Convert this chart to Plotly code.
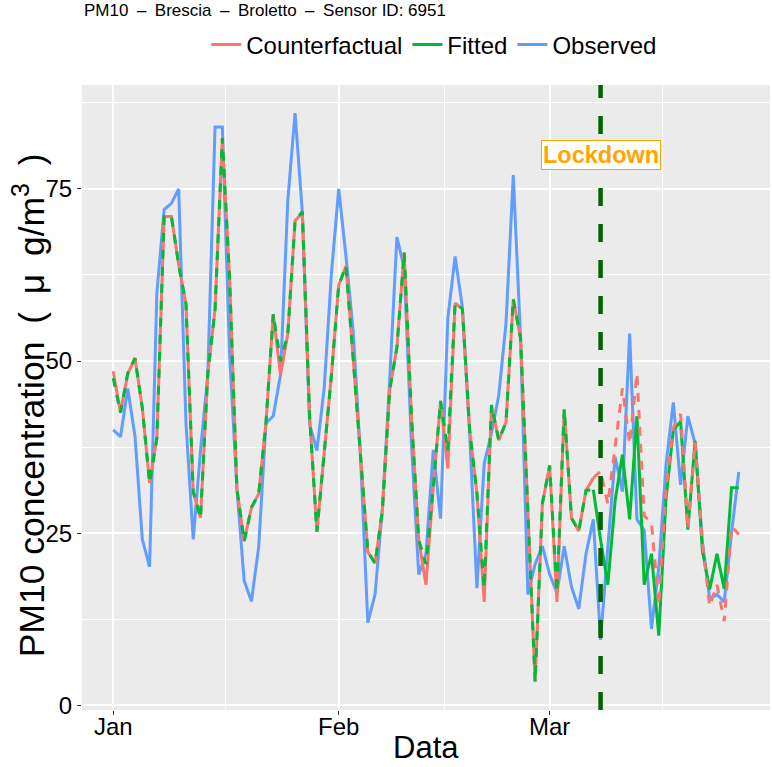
import pandas as pd
import plotly.graph_objects as go

# ---------------- data ----------------
start_date = "2020-01-01"
n_days = 87
lockdown_date = "2020-03-08"

observed = [40.0, 39.0, 46.0, 39.0, 24.1, 20.1, 59.9, 72.0, 72.9, 75.0,
            41.0, 24.1, 37.0, 48.0, 84.0, 84.0, 51.0, 31.5, 18.1, 15.1,
            23.0, 41.0, 42.0, 48.0, 73.3, 86.0, 71.6, 40.8, 37.0, 46.0,
            62.7, 75.0, 65.2, 54.2, 36.0, 12.0, 16.1, 28.5, 47.1, 68.0,
            63.5, 38.0, 19.0, 22.0, 37.1, 27.1, 56.2, 65.2, 57.8, 39.5,
            17.0, 35.1, 39.5, 45.0, 55.5, 77.0, 53.3, 16.1, 20.5, 23.1,
            19.0, 16.3, 23.1, 17.2, 14.0, 22.0, 27.0, 9.5, 23.0, 36.1,
            31.0, 54.0, 27.0, 25.4, 11.1, 20.0, 35.0, 44.0, 32.0, 42.0,
            38.0, 23.8, 15.5, 16.1, 15.0, 25.0, 33.9]

counterfactual = [48.5, 42.5, 48.2, 50.4, 43.2, 32.3, 38.8, 71.0, 71.0, 64.0,
                  58.3, 31.0, 27.2, 48.2, 57.5, 82.4, 62.0, 31.5, 23.8, 28.7,
                  30.7, 41.0, 56.8, 48.0, 53.9, 70.4, 71.5, 42.0, 25.2, 36.5,
                  48.0, 61.0, 63.8, 50.2, 36.8, 22.3, 20.6, 28.3, 45.7, 52.0,
                  65.8, 42.0, 24.0, 17.5, 31.7, 44.2, 34.4, 58.4, 57.6, 40.0,
                  30.8, 15.0, 43.6, 38.5, 41.1, 59.0, 53.3, 27.0, 3.4, 29.3,
                  34.8, 15.0, 43.0, 27.2, 25.3, 31.2, 33.0, 34.0, 29.2, 38.0,
                  46.0, 38.0, 48.2, 27.5, 26.5, 14.5, 31.5, 40.3, 42.3, 25.6,
                  38.2, 23.5, 14.4, 17.5, 12.2, 26.0, 24.8]

fitted = [47.5, 42.5, 48.2, 50.4, 43.2, 32.3, 38.8, 71.0, 71.0, 64.0,
          58.3, 31.0, 27.2, 48.2, 57.5, 82.4, 62.0, 31.5, 23.8, 28.7,
          30.7, 41.0, 56.8, 50.0, 53.9, 70.4, 71.7, 42.0, 25.2, 36.5,
          48.0, 61.0, 63.8, 50.2, 36.8, 22.3, 20.6, 28.3, 45.7, 52.0,
          65.8, 42.0, 24.0, 20.5, 31.7, 44.2, 37.0, 58.4, 57.6, 40.0,
          30.8, 17.0, 43.6, 38.5, 41.1, 59.0, 53.3, 27.0, 3.4, 29.3,
          34.8, 16.4, 43.0, 27.2, 25.3, 31.2, 31.3, 24.0, 17.5, 29.7,
          36.4, 27.0, 42.0, 17.5, 22.0, 10.1, 30.0, 40.0, 41.2, 25.5,
          38.4, 22.4, 16.8, 22.0, 16.9, 31.6, 31.6]

x_tick_vals = ["2020-01-01", "2020-02-01", "2020-03-01"]
x_tick_text = ["Jan", "Feb", "Mar"]
x_minor_vals = ["2020-01-16 12:00", "2020-02-15 12:00", "2020-03-16 12:00"]
y_tick_vals = [0, 25, 50, 75]
y_minor_vals = [12.5, 37.5, 62.5, 87.5]

SP = "\u2002"
title_text = f"PM10{SP}\u2013{SP}Brescia{SP}\u2013{SP}Broletto{SP}\u2013{SP}Sensor ID: 6951"
y_title = f"PM10 concentration{SP}({SP}\u03bc{SP}g/m<sup>3</sup>{SP})"

# ---------------- build ----------------
dates = pd.date_range(start_date, periods=n_days, freq="D")
df = pd.DataFrame({"date": dates, "obs": observed, "cf": counterfactual, "fit": fitted})
split = pd.Timestamp(lockdown_date) - pd.Timedelta(days=1)
pre = df[df["date"] <= split]
post = df[df["date"] >= split]

RED = "#F8766D"
GREEN = "#00BA38"
BLUE = "#619CFF"
FONT = "Liberation Sans, Arial, Helvetica, sans-serif"
LW = 3

fig = go.Figure()
fig.add_trace(go.Scatter(x=df["date"], y=df["obs"], mode="lines", name="Observed",
                         line=dict(color=BLUE, width=LW), legendrank=3))
fig.add_trace(go.Scatter(x=post["date"], y=post["fit"], mode="lines", name="Fitted",
                         line=dict(color=GREEN, width=LW), legendgroup="fit", legendrank=2))
fig.add_trace(go.Scatter(x=post["date"], y=post["cf"], mode="lines", name="Counterfactual",
                         line=dict(color=RED, width=LW, dash="9px,8px"), legendgroup="cf",
                         showlegend=False))
fig.add_trace(go.Scatter(x=pre["date"], y=pre["cf"], mode="lines", name="Counterfactual",
                         line=dict(color=RED, width=LW), legendgroup="cf", legendrank=1))
fig.add_trace(go.Scatter(x=pre["date"], y=pre["fit"], mode="lines", name="Fitted",
                         line=dict(color=GREEN, width=LW, dash="9px,8px"), legendgroup="fit",
                         showlegend=False))

fig.add_shape(type="line", xref="x", yref="paper", x0=lockdown_date, x1=lockdown_date,
              y0=0, y1=1, line=dict(color="#006400", width=4.5, dash="18px,18px"))

fig.add_annotation(x=lockdown_date, y=80, xref="x", yref="y", text="<b>Lockdown</b>",
                   showarrow=False, font=dict(family=FONT, size=23.5, color="#FFA500"),
                   bgcolor="white", bordercolor="#FFA500", borderwidth=1, borderpad=1)

fig.add_annotation(x=0.0, y=1.0, xref="paper", yref="paper", yshift=75, xshift=0,
                   text=title_text, showarrow=False, xanchor="left", yanchor="middle",
                   font=dict(family=FONT, size=17, color="black"))
fig.add_annotation(x=0.5, y=-0.0912, xref="paper", yref="paper", text="Data",
                   showarrow=False, xanchor="center", yanchor="bottom",
                   font=dict(family=FONT, size=31, color="black"))
fig.add_annotation(x=-0.076, y=0.487, xref="paper", yref="paper",
                   text=y_title, textangle=-90,
                   showarrow=False, xanchor="center", yanchor="middle",
                   font=dict(family=FONT, size=35.5, color="black"))

fig.update_layout(
    width=772, height=767,
    margin=dict(l=82, r=2, t=85, b=57, autoexpand=False),
    plot_bgcolor="#EBEBEB", paper_bgcolor="white",
    font=dict(family=FONT, color="black"),
    showlegend=True,
    legend=dict(orientation="h", x=0.512, xanchor="center", y=1.064, yanchor="middle",
                font=dict(family=FONT, size=24), bgcolor="rgba(0,0,0,0)",
                traceorder="normal"),
)
fig.update_xaxes(type="date", range=["2019-12-27 17:00", "2020-03-31 07:00"],
                 automargin=False,
                 tickmode="array", tickvals=x_tick_vals, ticktext=x_tick_text,
                 showgrid=True, gridcolor="white", gridwidth=1.6,
                 minor=dict(tickmode="array", tickvals=x_minor_vals, showgrid=True,
                            gridcolor="white", gridwidth=0.8),
                 ticks="outside", ticklen=4, tickwidth=1, tickcolor="#333333",
                 ticklabelstandoff=-9,
                 tickfont=dict(family=FONT, size=24, color="black"),
                 zeroline=False, showline=False)
fig.update_yaxes(range=[-0.7, 90.1], tickmode="array", tickvals=y_tick_vals,
                 automargin=False,
                 showgrid=True, gridcolor="white", gridwidth=1.6,
                 minor=dict(tickmode="array", tickvals=y_minor_vals, showgrid=True,
                            gridcolor="white", gridwidth=0.8),
                 ticks="outside", ticklen=4, tickwidth=1, tickcolor="#333333",
                 tickfont=dict(family=FONT, size=24, color="black"),
                 zeroline=False, showline=False)

fig.write_html("out.html", config={"displayModeBar": False},
               post_script="document.body.style.margin='0';document.body.style.overflow='hidden';")
